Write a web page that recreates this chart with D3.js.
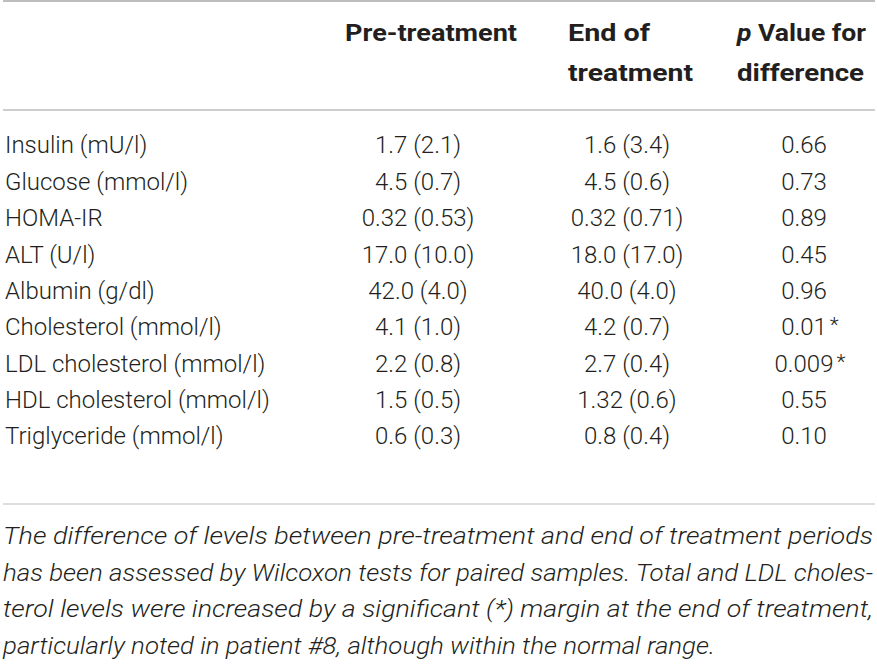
<!DOCTYPE html>
<html>
<head>
<meta charset="utf-8">
<script src="https://cdn.jsdelivr.net/npm/d3@7/dist/d3.min.js"></script>
<style>
  body { margin: 0; background: #fff; }
  svg { display: block; }
  text { fill: #231f20; font-family: Roboto, "Liberation Sans", sans-serif; }
</style>
</head>
<body>
<svg width="877" height="669"></svg>
<script>
// table content
const parameters = [
  'Insulin (mU/l)', 'Glucose (mmol/l)', 'HOMA-IR', 'ALT (U/l)', 'Albumin (g/dl)',
  'Cholesterol (mmol/l)', 'LDL cholesterol (mmol/l)', 'HDL cholesterol (mmol/l)', 'Triglyceride (mmol/l)'
];
const preTreatment = ['1.7 (2.1)', '4.5 (0.7)', '0.32 (0.53)', '17.0 (10.0)', '42.0 (4.0)',
  '4.1 (1.0)', '2.2 (0.8)', '1.5 (0.5)', '0.6 (0.3)'];
const endTreatment = ['1.6 (3.4)', '4.5 (0.6)', '0.32 (0.71)', '18.0 (17.0)', '40.0 (4.0)',
  '4.2 (0.7)', '2.7 (0.4)', '1.32 (0.6)', '0.8 (0.4)'];
const pValues = ['0.66', '0.73', '0.89', '0.45', '0.96', '0.01', '0.009', '0.55', '0.10'];
const significant = [false, false, false, false, false, true, true, false, false];

// header cells: column key, line index, text parts (first part italic for the p)
const headerCells = [
  { col: 'pre', line: 0, parts: ['Pre-treatment'], width: 172 },
  { col: 'end', line: 0, parts: ['End of'], width: 82 },
  { col: 'end', line: 1, parts: ['treatment'], width: 125 },
  { col: 'p', line: 0, parts: ['p', ' Value for'], width: 129 },
  { col: 'p', line: 1, parts: ['difference'], width: 127 }
];
const footnote = [
  'The difference of levels between pre-treatment and end of treatment periods',
  'has been assessed by Wilcoxon tests for paired samples. Total and LDL choles-',
  'terol levels were increased by a significant (*) margin at the end of treatment,',
  'particularly noted in patient #8, although within the normal range.'
];
const footnoteWidths = [870, 870, 870, 712];

const svg = d3.select('svg');

// column positions: left edge for headers, centre for values
const headerX = d3.scaleOrdinal().domain(['pre', 'end', 'p']).range([345, 568, 737]);
const valueX = d3.scaleOrdinal().domain(['pre', 'end', 'p']).range([418, 627, 804]);
const rowY = d3.scalePoint().domain(parameters).range([145, 436]);
const headY = d3.scalePoint().domain([0, 1]).range([33, 73]);
const noteY = d3.scalePoint().domain(d3.range(footnote.length)).range([536, 646]);

// rules
const rules = [
  { y: 1, w: 2 },
  { y: 110, w: 1.6 },
  { y: 504, w: 1.2 }
];
svg.selectAll('line.rule')
  .data(rules)
  .join('line')
  .attr('class', 'rule')
  .attr('x1', 3).attr('x2', 875)
  .attr('y1', d => d.y).attr('y2', d => d.y)
  .attr('stroke', '#bdbdbd')
  .attr('stroke-width', d => d.w);

// header
svg.selectAll('text.head')
  .data(headerCells)
  .join('text')
  .attr('class', 'head')
  .attr('x', d => headerX(d.col))
  .attr('y', d => headY(d.line))
  .attr('dy', '0.35em')
  .attr('font-size', 24)
  .attr('font-weight', 'bold')
  .attr('textLength', d => d.width)
  .attr('lengthAdjust', 'spacingAndGlyphs')
  .each(function (d) {
    d3.select(this).selectAll('tspan')
      .data(d.parts)
      .join('tspan')
      .attr('font-style', (p, j) => d.col === 'p' && d.line === 0 && j === 0 ? 'italic' : 'normal')
      .text(p => p);
  });

// body rows
const rows = parameters.map((name, i) => ({
  name, pre: preTreatment[i], end: endTreatment[i], p: pValues[i], sig: significant[i]
}));

const row = svg.selectAll('g.row')
  .data(rows)
  .join('g')
  .attr('class', 'row')
  .attr('transform', d => `translate(0,${rowY(d.name)})`);

row.append('text')
  .attr('x', 5)
  .attr('dy', '0.35em')
  .attr('font-size', 24)
  .attr('font-weight', 300)
  .text(d => d.name);

['pre', 'end', 'p'].forEach(col => {
  row.append('text')
    .attr('class', 'v-' + col)
    .attr('x', valueX(col))
    .attr('dy', '0.35em')
    .attr('text-anchor', 'middle')
    .attr('font-size', 24)
    .attr('font-weight', 300)
    .text(d => d[col]);
});

// significance stars, placed right after the centred p value
row.filter(d => d.sig).each(function () {
  const g = d3.select(this);
  const w = g.select('text.v-p').node().getComputedTextLength();
  g.append('text')
    .attr('x', valueX('p') + w / 2 + 3)
    .attr('dy', '0.25em')
    .attr('font-size', 21)
    .attr('font-weight', 300)
    .text('*');
});

// footnote, justified lines
svg.selectAll('text.note')
  .data(footnote)
  .join('text')
  .attr('class', 'note')
  .attr('x', 3)
  .attr('y', (d, i) => noteY(i))
  .attr('dy', '0.35em')
  .attr('font-size', 23)
  .attr('font-style', 'italic')
  .attr('font-weight', 300)
  .attr('textLength', (d, i) => footnoteWidths[i])
  .attr('lengthAdjust', 'spacingAndGlyphs')
  .text(d => d);
</script>
</body>
</html>
